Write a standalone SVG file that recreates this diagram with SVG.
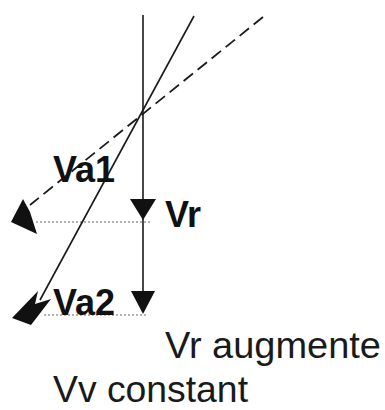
<svg xmlns="http://www.w3.org/2000/svg" width="385" height="410" viewBox="0 0 385 410">
<style>
.ln{stroke:#1a1a1a;stroke-width:1.6;fill:none}
.dash{stroke:#1a1a1a;stroke-width:1.8;fill:none;stroke-dasharray:12 6}
.dot{stroke:#9a9a9a;stroke-width:1.4;fill:none;stroke-dasharray:2 2}
.head{fill:#111}
.lb{font-family:"Liberation Sans",Arial,sans-serif;font-weight:bold;font-size:36px;fill:#111}
.tx{font-family:"Liberation Sans",Arial,sans-serif;font-size:36px;fill:#1a1a1a}
</style>
<rect width="385" height="410" fill="#fff"/>
<g id="connectors">
<line class="dot" x1="36" y1="222" x2="152" y2="222"/>
<line class="dot" x1="44" y1="315" x2="148" y2="315"/>
<line class="ln" x1="143" y1="15" x2="143" y2="310"/>
<polygon class="head" points="130,199 156,199 143,220"/>
<polygon class="head" points="131,291 155,291 143,314"/>
<line class="dash" x1="263" y1="17" x2="30" y2="205"/>
<polygon class="head" points="11,222 23,199 30,212 37,234"/>
<line class="ln" x1="194" y1="16" x2="40" y2="300"/>
<polygon class="head" points="12,318 38,291 35,304 51,299 31,325"/>
</g>
<g id="label-va1"><text class="lb" x="53" y="182">Va1</text></g>
<g id="label-vr"><text class="lb" x="165" y="227">Vr</text></g>
<g id="label-va2"><text class="lb" x="53" y="315">Va2</text></g>
<g id="caption"><text class="tx" x="165" y="358" textLength="216" lengthAdjust="spacingAndGlyphs">Vr augmente</text>
<text class="tx" x="53" y="402" textLength="195" lengthAdjust="spacingAndGlyphs">Vv constant</text></g>
</svg>
